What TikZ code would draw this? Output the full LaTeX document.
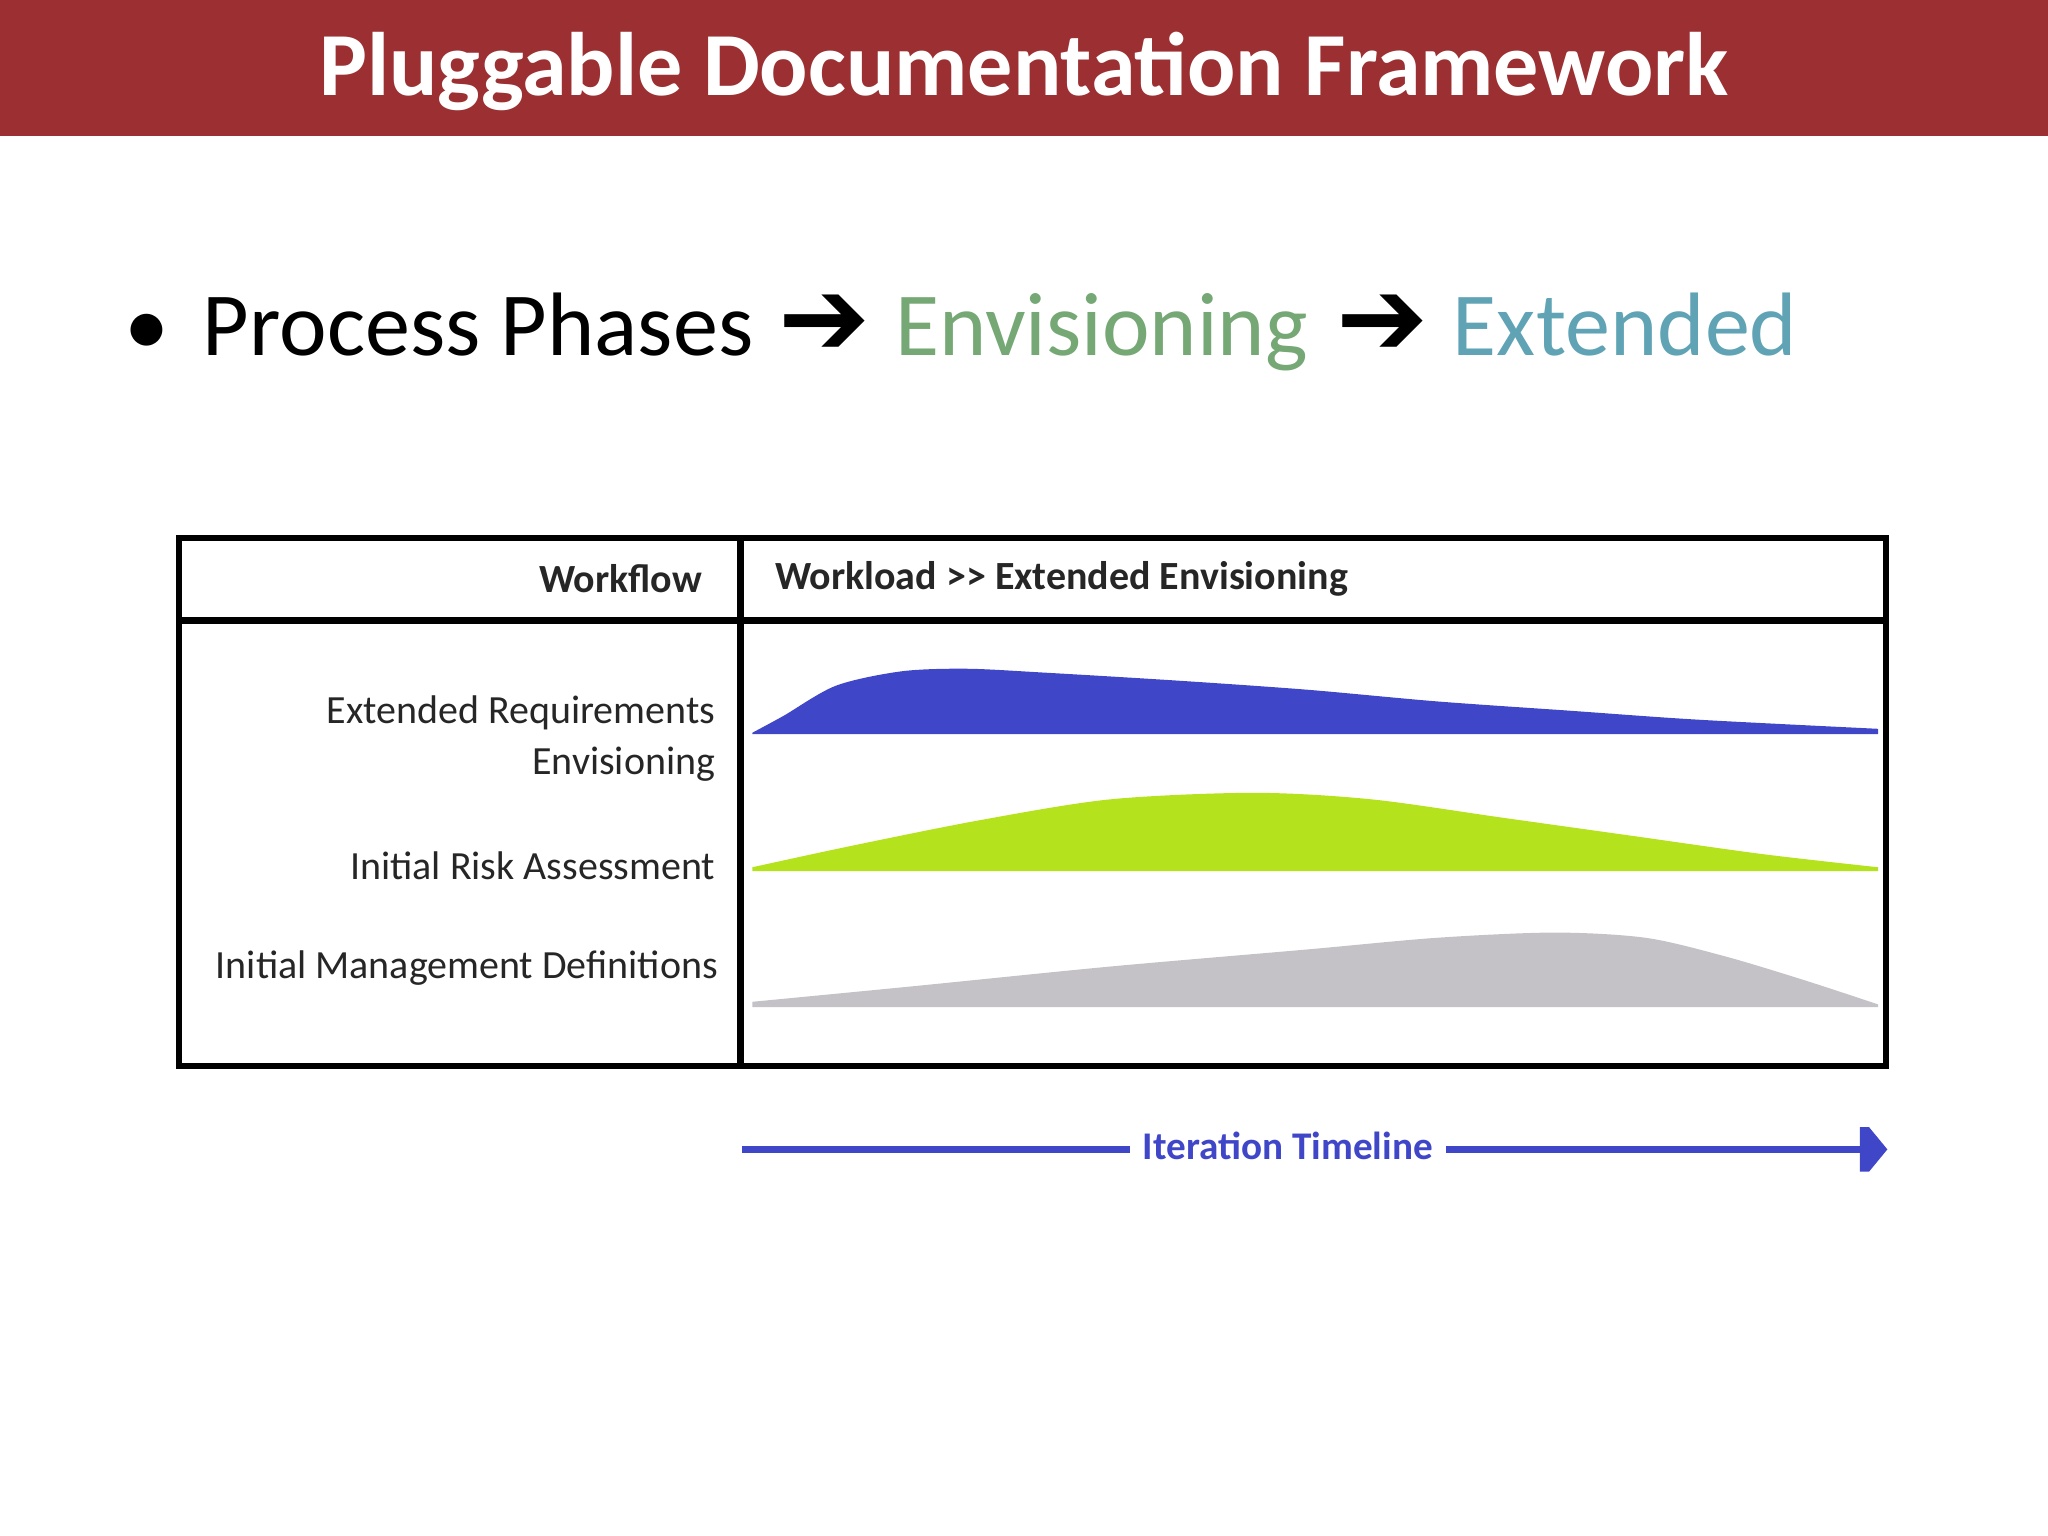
\documentclass[tikz,border=0pt]{standalone}
\usepackage{fontspec}
\setmainfont{Carlito}
\newfontfamily\symfont{DejaVu Sans}
\definecolor{titlered}{HTML}{9B2F32}
\definecolor{envgreen}{HTML}{76A876}
\definecolor{extblue}{HTML}{5FA3B5}
\definecolor{wlblue}{HTML}{4046C8}
\definecolor{wlgreen}{HTML}{B4E31E}
\definecolor{wlgray}{HTML}{C4C2C6}
\begin{document}
\begin{tikzpicture}[x=0.5pt,y=-0.5pt,
  lbl/.style={anchor=east,inner sep=0pt,font=\fontsize{15.3}{17}\selectfont,text=black!85},
  hdr/.style={inner sep=0pt,font=\bfseries\fontsize{15.3}{17}\selectfont,text=black!85},
  big/.style={inner sep=0pt,anchor=base west,font=\fontsize{34.5}{40}\selectfont},
  parrow/.style={inner sep=0pt,anchor=base west,font=\symfont\fontsize{42}{44}\selectfont}]
\useasboundingbox (0,0) rectangle (1568,1176);
\fill[titlered] (0,0) rectangle (1568,104);
\node[inner sep=0pt,text=white,font=\bfseries\fontsize{34.5}{40}\selectfont] (title) at (784,55) {Pluggable Documentation Framework};
\node[big] (bul) at (95,272) {•};
\node[big] (pp) at (155,272) {Process Phases};
\node[parrow] (a1) at (596,272) {➔};
\node[big,text=envgreen] (env) at (685,272) {Envisioning};
\node[parrow] (a2) at (1023,272) {➔};
\node[big,text=extblue] (ext) at (1112,272) {Extended};
% curves
\fill[wlblue] plot[smooth] coordinates {(576,561) (600,548) (640,525) (690,514) (740,512) (800,515) (900,521) (1000,528) (1100,537) (1200,544) (1300,551) (1438,558)} -- (1438,562) -- (576,562) -- cycle;
\fill[wlgreen] plot[smooth] coordinates {(576,664) (650,648) (750,628) (850,612) (960,607) (1050,612) (1150,626) (1250,640) (1350,654) (1438,664)} -- (1438,667) -- (576,667) -- cycle;
\fill[wlgray] plot[smooth] coordinates {(576,767) (700,755) (850,740) (1000,727) (1100,718) (1190,714) (1260,718) (1320,732) (1380,750) (1438,769)} -- (1438,771) -- (576,771) -- cycle;
% table
\draw[line width=2.5pt] (137,412) rectangle (1444,816);
\draw[line width=2.5pt] (137,475) -- (1444,475);
\draw[line width=2.5pt] (567,412) -- (567,816);
\node[hdr,anchor=east] (wf) at (538,443) {Workflow};
\node[hdr,anchor=west] (wl) at (593,443) {Workload >{}> Extended Envisioning};
\node[lbl] (l1) at (548,546) {Extended Requirements};
\node[lbl] (l2) at (548,585) {Envisioning};
\node[lbl] (l3) at (548,663) {Initial Risk Assessment};
\node[lbl] (l4) at (550,741) {Initial Management Definitions};
% timeline
\coordinate (ts) at (568,880);
\coordinate (te) at (1426,880);
\node[inner sep=0pt,text=wlblue,font=\bfseries\fontsize{15}{17}\selectfont] (it) at (986,877) {Iteration Timeline};
\draw[wlblue,line width=2.5pt] (ts) -- (865,880);
\draw[wlblue,line width=2.5pt] (1107,880) -- (te);
\fill[wlblue] (1424,863) -- (1431,863) -- (1445,880) -- (1431,897) -- (1424,897) -- cycle;
\end{tikzpicture}
\end{document}
